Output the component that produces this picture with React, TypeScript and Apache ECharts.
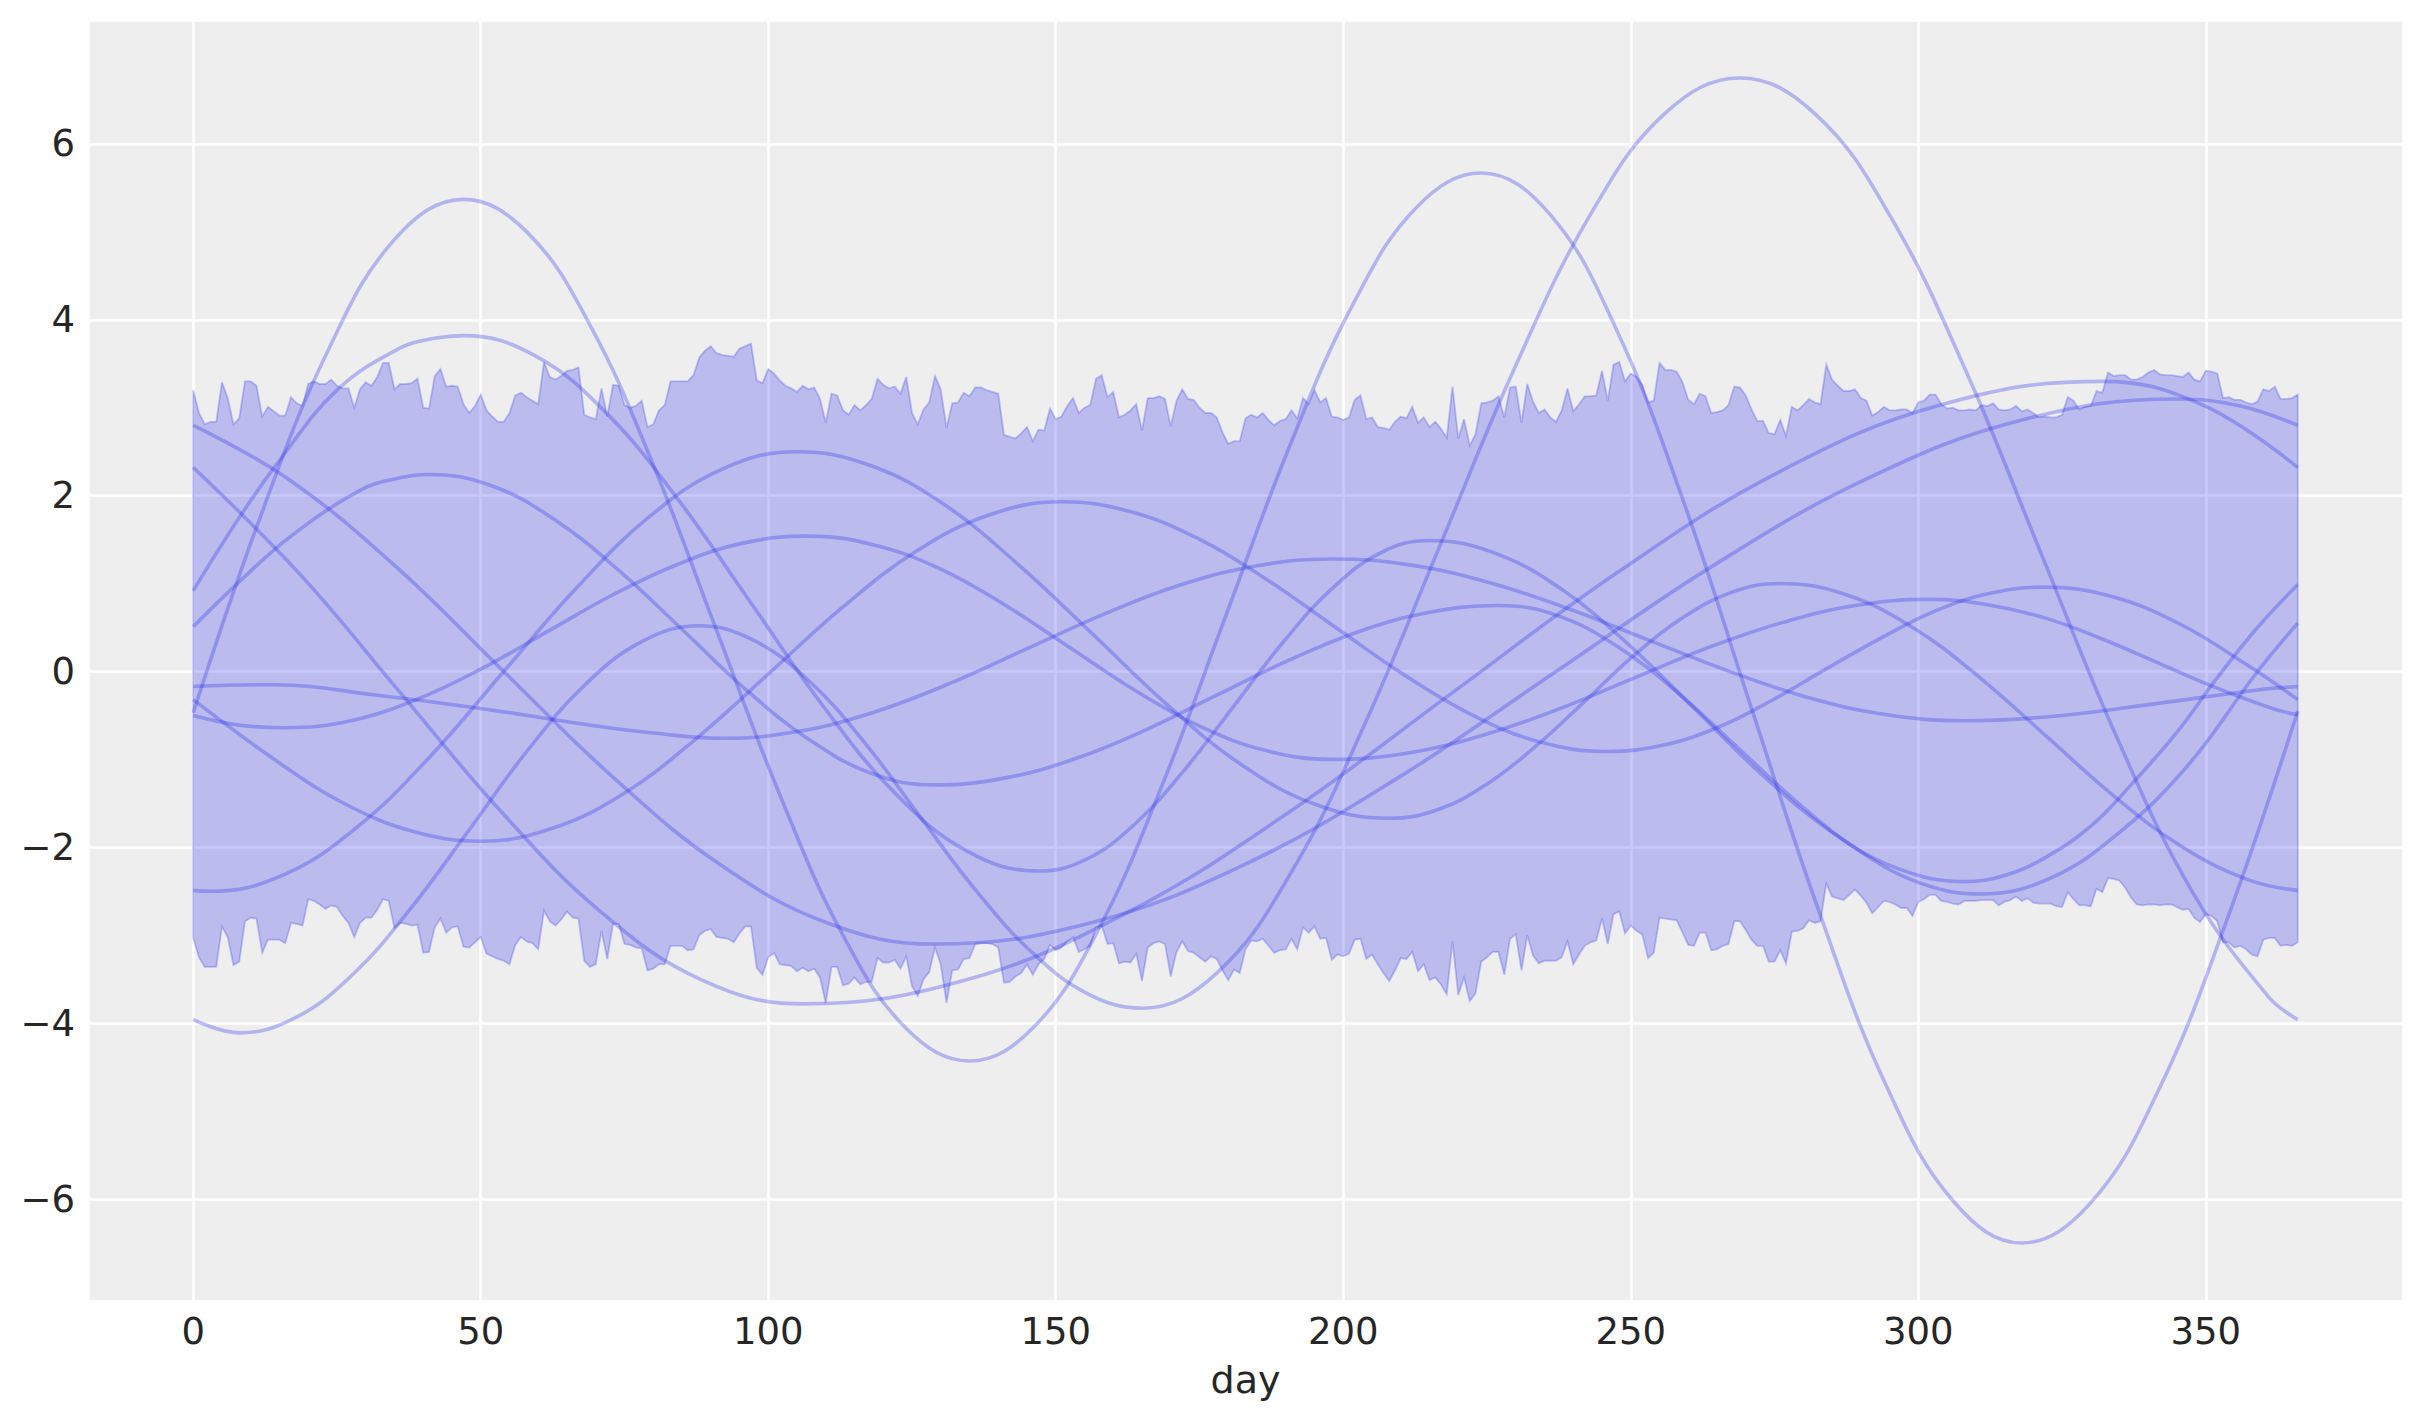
import React, { useEffect, useRef } from "react";
import * as echarts from "echarts";

// Upper / lower edge of the shaded band, one value per day (0..366)
const upper = [
  3.20, 2.94, 2.81, 2.84, 2.84, 3.29, 3.11, 2.81, 2.88, 3.30,
  3.30, 3.25, 2.90, 3.01, 2.96, 2.91, 2.91, 3.12, 3.05, 3.02,
  3.27, 3.30, 3.27, 3.27, 3.32, 3.25, 3.22, 3.22, 3.00, 3.21,
  3.29, 3.25, 3.35, 3.51, 3.51, 3.21, 3.27, 3.27, 3.28, 3.33,
  3.00, 2.99, 3.36, 3.44, 3.24, 3.25, 3.24, 3.04, 2.94, 3.02,
  3.15, 2.97, 2.90, 2.84, 2.84, 2.94, 3.14, 3.17, 3.12, 3.08,
  3.04, 3.52, 3.35, 3.32, 3.36, 3.42, 3.43, 3.46, 2.92, 2.89,
  2.87, 3.22, 2.90, 3.26, 3.25, 3.03, 3.00, 3.02, 3.08, 2.78,
  2.81, 2.97, 3.03, 3.30, 3.30, 3.30, 3.30, 3.37, 3.57, 3.65,
  3.70, 3.62, 3.60, 3.59, 3.58, 3.67, 3.70, 3.73, 3.31, 3.28,
  3.44, 3.39, 3.31, 3.25, 3.22, 3.18, 3.25, 3.21, 3.23, 3.10,
  2.83, 3.16, 3.14, 2.97, 2.92, 3.03, 2.97, 3.03, 3.10, 3.33,
  3.26, 3.22, 3.24, 3.16, 3.35, 2.94, 2.81, 2.98, 3.06, 3.36,
  3.21, 2.77, 3.05, 3.06, 3.17, 3.13, 3.23, 3.23, 3.20, 3.18,
  3.16, 2.69, 2.67, 2.65, 2.71, 2.78, 2.62, 2.75, 2.74, 2.99,
  2.87, 2.90, 3.02, 3.11, 2.94, 3.00, 3.03, 3.33, 3.37, 3.12,
  3.18, 2.89, 2.92, 2.97, 3.04, 2.74, 3.11, 3.11, 3.13, 3.10,
  2.79, 3.08, 3.21, 3.10, 3.09, 3.00, 2.94, 2.94, 2.89, 2.72,
  2.59, 2.62, 2.62, 2.88, 2.92, 2.89, 2.94, 2.86, 2.80, 2.85,
  2.87, 2.97, 2.88, 3.11, 3.04, 3.20, 3.06, 3.11, 2.90, 2.89,
  2.86, 2.89, 3.09, 3.14, 2.87, 2.89, 2.78, 2.77, 2.75, 2.84,
  2.90, 2.88, 3.01, 2.83, 2.89, 2.78, 2.84, 2.76, 2.66, 3.24,
  2.65, 2.87, 2.57, 2.70, 3.05, 3.06, 3.08, 3.13, 2.89, 3.23,
  3.24, 2.83, 3.27, 3.07, 2.94, 2.98, 2.89, 2.84, 2.97, 3.22,
  2.96, 3.04, 3.13, 3.13, 3.14, 3.42, 3.08, 3.49, 3.52, 3.30,
  3.39, 3.35, 3.26, 3.06, 3.08, 3.51, 3.43, 3.43, 3.41, 3.29,
  3.09, 3.04, 3.16, 3.13, 2.94, 2.95, 2.97, 3.03, 3.24, 3.23,
  3.14, 2.98, 2.85, 2.85, 2.71, 2.70, 2.86, 2.68, 3.01, 2.97,
  3.03, 3.10, 3.06, 3.04, 3.49, 3.32, 3.25, 3.19, 3.19, 3.21,
  3.11, 3.08, 2.91, 2.95, 3.01, 2.97, 2.97, 2.98, 2.98, 2.94,
  3.06, 3.08, 3.15, 3.15, 3.04, 2.99, 3.00, 2.97, 2.97, 2.98,
  2.97, 3.03, 3.02, 3.05, 2.98, 2.97, 2.98, 3.02, 2.96, 2.98,
  2.94, 2.89, 2.90, 2.89, 2.89, 2.92, 3.12, 3.08, 2.98, 3.01,
  3.02, 3.19, 3.17, 3.40, 3.36, 3.37, 3.37, 3.32, 3.32, 3.35,
  3.40, 3.43, 3.38, 3.37, 3.37, 3.36, 3.35, 3.40, 3.32, 3.30,
  3.42, 3.41, 3.39, 3.11, 3.12, 3.09, 3.09, 3.06, 3.04, 3.07,
  3.21, 3.19, 3.24, 3.10, 3.10, 3.11, 3.15,
];

const lower = [
  -3.03, -3.25, -3.36, -3.36, -3.36, -2.90, -3.02, -3.34, -3.30, -2.84,
  -2.80, -2.81, -3.20, -3.05, -3.05, -3.05, -3.09, -2.86, -2.87, -2.89,
  -2.59, -2.61, -2.65, -2.70, -2.66, -2.68, -2.78, -2.86, -3.02, -2.86,
  -2.80, -2.80, -2.71, -2.59, -2.61, -2.92, -2.86, -2.87, -2.89, -2.88,
  -3.20, -3.19, -2.91, -2.81, -2.97, -2.91, -2.90, -3.13, -3.14, -3.08,
  -3.02, -3.21, -3.24, -3.27, -3.29, -3.33, -3.11, -3.02, -3.07, -3.09,
  -3.16, -2.72, -2.84, -2.89, -2.82, -2.73, -2.80, -2.81, -3.29, -3.36,
  -3.33, -2.95, -3.27, -2.87, -2.87, -3.10, -3.11, -3.14, -3.15, -3.40,
  -3.38, -3.33, -3.33, -3.12, -3.12, -3.12, -3.17, -3.16, -3.00, -2.95,
  -2.93, -3.02, -3.03, -3.04, -3.08, -2.98, -2.90, -2.90, -3.37, -3.45,
  -3.25, -3.20, -3.33, -3.34, -3.35, -3.41, -3.37, -3.41, -3.38, -3.48,
  -3.77, -3.36, -3.36, -3.57, -3.55, -3.48, -3.56, -3.53, -3.53, -3.26,
  -3.31, -3.31, -3.28, -3.38, -3.24, -3.58, -3.69, -3.50, -3.42, -3.14,
  -3.33, -3.77, -3.40, -3.39, -3.27, -3.26, -3.10, -3.09, -3.09, -3.10,
  -3.14, -3.54, -3.53, -3.47, -3.43, -3.33, -3.45, -3.33, -3.27, -3.11,
  -3.17, -3.14, -3.07, -3.02, -3.19, -3.16, -3.12, -2.91, -2.89, -3.10,
  -3.09, -3.32, -3.30, -3.31, -3.21, -3.52, -3.14, -3.09, -3.07, -3.10,
  -3.47, -3.19, -3.07, -3.18, -3.20, -3.25, -3.30, -3.24, -3.27, -3.40,
  -3.51, -3.39, -3.43, -3.16, -3.06, -3.07, -3.04, -3.12, -3.20, -3.17,
  -3.16, -3.04, -3.16, -2.91, -2.97, -2.90, -3.04, -3.03, -3.28, -3.22,
  -3.24, -3.21, -3.05, -3.04, -3.27, -3.22, -3.33, -3.43, -3.52, -3.40,
  -3.26, -3.27, -3.19, -3.41, -3.33, -3.51, -3.48, -3.56, -3.67, -3.07,
  -3.68, -3.48, -3.75, -3.66, -3.30, -3.25, -3.19, -3.19, -3.45, -3.04,
  -2.99, -3.40, -3.00, -3.23, -3.32, -3.29, -3.29, -3.29, -3.25, -3.07,
  -3.33, -3.22, -3.12, -3.08, -3.06, -2.81, -3.10, -2.76, -2.73, -2.98,
  -2.89, -2.95, -2.99, -3.26, -3.20, -2.80, -2.81, -2.82, -2.83, -2.97,
  -3.11, -3.12, -2.97, -2.97, -3.17, -3.16, -3.12, -3.10, -2.84, -2.84,
  -2.94, -3.05, -3.12, -3.12, -3.30, -3.30, -3.17, -3.32, -2.96, -2.95,
  -2.92, -2.83, -2.86, -2.84, -2.41, -2.56, -2.58, -2.60, -2.54, -2.48,
  -2.55, -2.63, -2.75, -2.68, -2.61, -2.62, -2.65, -2.69, -2.69, -2.78,
  -2.62, -2.59, -2.54, -2.54, -2.61, -2.62, -2.64, -2.65, -2.61, -2.61,
  -2.61, -2.60, -2.60, -2.60, -2.66, -2.62, -2.60, -2.56, -2.61, -2.58,
  -2.63, -2.64, -2.64, -2.64, -2.67, -2.68, -2.51, -2.59, -2.66, -2.66,
  -2.67, -2.47, -2.51, -2.35, -2.36, -2.38, -2.46, -2.57, -2.65, -2.66,
  -2.65, -2.65, -2.66, -2.65, -2.65, -2.68, -2.71, -2.70, -2.80, -2.85,
  -2.76, -2.78, -2.84, -3.08, -3.08, -3.14, -3.12, -3.16, -3.22, -3.24,
  -3.05, -3.03, -3.03, -3.12, -3.11, -3.12, -3.08,
];

const sample01 = [[0, -0.47], [11.4, 1.71], [23.3, 3.63], [35.1, 4.92], [47, 5.37], [58, 5.0], [69, 3.94], [80, 2.35], [91, 0.47], [102, -1.4], [113, -3.0], [124, -4.06], [135, -4.43], [146.1, -4.05], [157.3, -2.95], [168.4, -1.31], [179.5, 0.62], [190.6, 2.55], [201.8, 4.19], [212.9, 5.29], [224, 5.67], [235.8, 5.21], [247.5, 3.89], [259.3, 1.91], [271, -0.42], [282.8, -2.74], [294.5, -4.72], [306.3, -6.04], [318, -6.5], [329.9, -6.05], [341.8, -4.76], [353.6, -2.84], [366, -0.45]];
const sample02 = [[0, -3.96], [8, -4.11], [18, -3.93], [28, -3.43], [38, -2.68], [48, -1.8], [58, -0.91], [68, -0.16], [78, 0.34], [88, 0.52], [97.6, 0.35], [107.3, -0.12], [116.9, -0.82], [126.5, -1.66], [136.1, -2.49], [145.8, -3.19], [155.4, -3.66], [165, -3.83], [178, -3.43], [191, -2.28], [204, -0.56], [217, 1.46], [230, 3.48], [243, 5.2], [256, 6.35], [269, 6.75], [282.1, 6.34], [295.3, 5.16], [308.4, 3.4], [321.5, 1.32], [334.6, -0.76], [347.8, -2.52], [360.9, -3.7], [366, -3.96]];
const sample03 = [[0, 2.8], [16.5, 2.19], [35.3, 1.19], [54, 0], [72.8, -1.19], [91.5, -2.19], [110.3, -2.86], [129, -3.1], [156, -2.86], [183, -2.19], [210, -1.19], [237, 0], [264, 1.19], [291, 2.19], [318, 2.86], [345, 3.1], [356, 3.02], [366, 2.8]];
const sample04 = [[0, 2.32], [18.5, 1.11], [36, -0.24], [53.5, -1.59], [71, -2.74], [88.5, -3.51], [106, -3.78], [134.3, -3.51], [162.5, -2.74], [190.8, -1.59], [219, -0.24], [247.3, 1.11], [275.5, 2.26], [303.8, 3.03], [332, 3.3], [349.5, 3.03], [366, 2.32]];
const sample05 = [[0, 0.92], [8, 1.75], [15, 2.4], [25, 3.2], [36, 3.68], [42, 3.79], [47, 3.82], [59.5, 3.59], [72, 2.93], [84.5, 1.94], [97, 0.78], [109.5, -0.39], [122, -1.38], [134.5, -2.04], [147, -2.27], [155.5, -2.13], [164, -1.72], [172.5, -1.11], [181, -0.39], [189.5, 0.33], [198, 0.94], [206.5, 1.35], [215, 1.49], [226.6, 1.34], [238.3, 0.92], [249.9, 0.29], [261.5, -0.45], [273.1, -1.19], [284.8, -1.82], [296.4, -2.24], [308, -2.39], [315, -2.32], [322, -2.12], [330, -1.76], [337, -1.29], [345, -0.69], [352, -0.07], [359, 0.5], [366, 0.99]];
const sample06 = [[0, 0.51], [8, 1.02], [17, 1.54], [29, 2.06], [35, 2.19], [41, 2.24], [52, 2.11], [63, 1.72], [74, 1.15], [85, 0.48], [96, -0.2], [107, -0.77], [118, -1.16], [129, -1.29], [141.3, -1.21], [153.5, -0.99], [165.8, -0.66], [178, -0.27], [190.3, 0.12], [202.5, 0.45], [214.8, 0.67], [227, 0.75], [237.5, 0.63], [248, 0.27], [258.5, -0.26], [269, -0.89], [279.5, -1.52], [290, -2.05], [300.5, -2.41], [311, -2.53], [323, -2.35], [335, -1.83], [347, -1.06], [359, 0.0], [366, 0.55]];
const sample07 = [[0, -0.17], [14, -0.15], [32, -0.27], [50, -0.42], [68, -0.6], [80, -0.7], [92, -0.76], [105.3, -0.68], [118.5, -0.46], [131.8, -0.13], [145, 0.26], [158.3, 0.65], [171.5, 0.98], [184.8, 1.2], [198, 1.28], [211.8, 1.21], [225.5, 1.01], [239.3, 0.71], [253, 0.36], [266.8, 0.01], [280.5, -0.29], [294.3, -0.49], [308, -0.56], [325, -0.5], [342, -0.36], [359, -0.21], [366, -0.17]];
const sample08 = [[0, -0.32], [15, -1.04], [26.5, -1.51], [38.3, -1.82], [50, -1.93], [62.6, -1.78], [75.3, -1.37], [87.9, -0.74], [100.5, 0], [113.1, 0.74], [125.8, 1.37], [138.4, 1.78], [151, 1.93], [162.9, 1.82], [174.8, 1.51], [186.6, 1.05], [198.5, 0.51], [210.4, -0.03], [222.3, -0.49], [234.1, -0.8], [246, -0.91], [255.5, -0.84], [265, -0.64], [274.5, -0.33], [284, 0.03], [293.5, 0.38], [303, 0.69], [312.5, 0.89], [322, 0.96], [333.8, 0.85], [345.5, 0.54], [357.3, 0.07], [366, -0.32]];
const sample09 = [[0, -0.5], [8, -0.61], [16, -0.64], [27.4, -0.56], [38.8, -0.32], [50.1, 0.03], [61.5, 0.45], [72.9, 0.87], [84.3, 1.22], [95.6, 1.46], [107, 1.54], [118.4, 1.44], [129.8, 1.17], [141.1, 0.76], [152.5, 0.27], [163.9, -0.22], [175.3, -0.63], [186.6, -0.9], [198, -1.0], [211, -0.93], [224, -0.73], [237, -0.44], [250, -0.09], [263, 0.26], [276, 0.55], [289, 0.75], [302, 0.82], [312, 0.76], [322, 0.61], [332, 0.37], [342, 0.09], [352, -0.19], [362, -0.43], [366, -0.49]];
const sample10 = [[0, -2.49], [3, -2.5], [15.8, -2.31], [28.5, -1.77], [41.3, -0.96], [54, 0], [66.8, 0.96], [79.5, 1.77], [92.3, 2.31], [105, 2.5], [117.9, 2.34], [130.8, 1.89], [143.6, 1.21], [156.5, 0.42], [169.4, -0.38], [182.3, -1.06], [195.1, -1.51], [208, -1.67], [216.5, -1.57], [225, -1.28], [233.5, -0.85], [242, -0.34], [250.5, 0.18], [259, 0.61], [267.5, 0.9], [276, 1.0], [287.6, 0.87], [299.3, 0.49], [310.9, -0.08], [322.5, -0.75], [334.1, -1.42], [345.8, -1.99], [357.4, -2.37], [366, -2.49]];

const samples = [sample01, sample02, sample03, sample04, sample05, sample06, sample07, sample08, sample09, sample10];

const xTicks = [0, 50, 100, 150, 200, 250, 300, 350];
const yTicks = [-6, -4, -2, 0, 2, 4, 6];

const BAND_FILL = "rgba(42,46,236,0.26)";
const LINE_COL = "rgba(42,46,236,0.3)";
const TEXT = "#262626";
const FONT = "DejaVu Sans";

export default function App() {
  const ref = useRef<HTMLDivElement>(null);

  useEffect(() => {
    if (!ref.current) return;
    const chart = echarts.init(ref.current, null, { renderer: "svg" });
    const days = upper.map((_, i) => i);

    const bandSeries = {
      type: "custom",
      silent: true,
      z: 2,
      data: [[0, 0]],
      renderItem: (_params: any, api: any) => {
        const pts: number[][] = [];
        for (const d of days) pts.push(api.coord([d, upper[d]]));
        for (let i = days.length - 1; i >= 0; i--) pts.push(api.coord([days[i], lower[days[i]]]));
        return {
          type: "polygon",
          shape: { points: pts },
          style: { fill: BAND_FILL, stroke: BAND_FILL, lineWidth: 1.8 },
        };
      },
    };

    const lineSeries = samples.map((s) => ({
      type: "line",
      data: s,
      smooth: 0.4,
      symbol: "none",
      z: 3,
      lineStyle: { color: LINE_COL, width: 3.6 },
      silent: true,
    }));

    chart.setOption({
      animation: false,
      backgroundColor: "#ffffff",
      grid: {
        left: 88,
        top: 20,
        width: 2315,
        height: 1281,
        show: true,
        backgroundColor: "#eeeeee",
        borderWidth: 0,
      },
      xAxis: {
        type: "value",
        min: -18.3,
        max: 384.3,
        splitNumber: 8,
        axisLine: { show: false },
        axisTick: { show: false },
        splitLine: { show: true, lineStyle: { color: "#ffffff", width: 2.5 } },
        axisLabel: {
          fontFamily: FONT,
          fontSize: 37,
          color: TEXT,
          margin: 12,
          formatter: (v: number) => (xTicks.includes(v) ? String(v) : ""),
        },
        name: "day",
        nameLocation: "middle",
        nameGap: 60,
        nameTextStyle: { fontFamily: FONT, fontSize: 38, color: TEXT },
      },
      yAxis: {
        type: "value",
        min: -7.16,
        max: 7.41,
        splitNumber: 7,
        axisLine: { show: false },
        axisTick: { show: false },
        splitLine: { show: true, lineStyle: { color: "#ffffff", width: 2.5 } },
        axisLabel: {
          fontFamily: FONT,
          fontSize: 37,
          color: TEXT,
          margin: 13,
          formatter: (v: number) => (yTicks.includes(v) ? String(v).replace("-", "\u2212") : ""),
        },
      },
      series: [bandSeries, ...lineSeries],
    });

    return () => chart.dispose();
  }, []);

  return (
    <div
      ref={ref}
      style={{ position: "absolute", left: 0, top: 0, width: 2423, height: 1423 }}
    />
  );
}
